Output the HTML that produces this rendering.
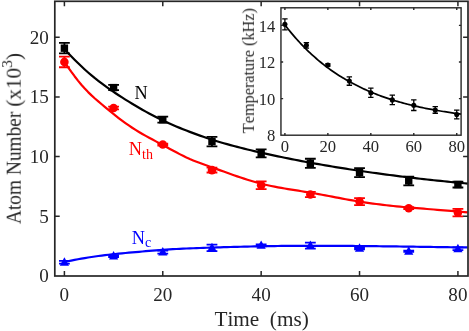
<!DOCTYPE html>
<html><head><meta charset="utf-8"><title>plot</title>
<style>html,body{margin:0;padding:0;background:#fff}body{width:469px;height:331px;overflow:hidden}svg{display:block}svg text{font-family:"Liberation Serif",serif;font-kerning:none;will-change:transform;white-space:pre}</style>
</head><body>
<svg width="469" height="331" viewBox="0 0 469 331">
<rect width="469" height="331" fill="#fff"/>
<g fill="none" stroke-width="2.20" stroke-linejoin="round">
<path stroke="#000" d="M64.40 49.14 L67.79 52.72 L71.18 56.23 L74.57 59.68 L77.96 63.04 L81.35 66.30 L84.74 69.46 L88.13 72.50 L91.52 75.41 L94.91 78.21 L98.30 80.88 L101.69 83.46 L105.07 85.95 L108.46 88.36 L111.85 90.71 L115.24 93.00 L118.63 95.24 L122.02 97.43 L125.41 99.58 L128.80 101.68 L132.19 103.74 L135.58 105.76 L138.97 107.74 L142.36 109.69 L145.75 111.59 L149.14 113.45 L152.53 115.26 L155.92 117.02 L159.31 118.73 L162.70 120.38 L166.09 121.98 L169.48 123.52 L172.87 125.01 L176.26 126.46 L179.65 127.86 L183.03 129.23 L186.42 130.56 L189.81 131.86 L193.20 133.14 L196.59 134.38 L199.98 135.60 L203.37 136.78 L206.76 137.94 L210.15 139.06 L213.54 140.14 L216.93 141.20 L220.32 142.22 L223.71 143.21 L227.10 144.18 L230.49 145.12 L233.88 146.03 L237.27 146.92 L240.66 147.79 L244.05 148.63 L247.44 149.46 L250.83 150.27 L254.22 151.07 L257.61 151.85 L260.99 152.62 L264.38 153.38 L267.77 154.13 L271.16 154.87 L274.55 155.60 L277.94 156.32 L281.33 157.02 L284.72 157.72 L288.11 158.41 L291.50 159.09 L294.89 159.76 L298.28 160.42 L301.67 161.07 L305.06 161.71 L308.45 162.34 L311.84 162.96 L315.23 163.57 L318.62 164.18 L322.01 164.77 L325.40 165.36 L328.79 165.94 L332.18 166.51 L335.57 167.07 L338.95 167.62 L342.34 168.16 L345.73 168.70 L349.12 169.23 L352.51 169.75 L355.90 170.27 L359.29 170.77 L362.68 171.27 L366.07 171.76 L369.46 172.25 L372.85 172.73 L376.24 173.20 L379.63 173.66 L383.02 174.12 L386.41 174.57 L389.80 175.01 L393.19 175.45 L396.58 175.88 L399.97 176.31 L403.36 176.72 L406.75 177.14 L410.14 177.54 L413.52 177.94 L416.91 178.34 L420.30 178.73 L423.69 179.11 L427.08 179.48 L430.47 179.86 L433.86 180.22 L437.25 180.58 L440.64 180.93 L444.03 181.28 L447.42 181.63 L450.81 181.97 L454.20 182.30 L457.59 182.63 L460.98 182.95 L464.37 183.27 L467.76 183.58"/>
<path stroke="#f00" d="M64.40 61.68 L67.79 66.77 L71.18 71.62 L74.57 76.22 L77.96 80.58 L81.35 84.68 L84.74 88.52 L88.13 92.09 L91.52 95.39 L94.91 98.48 L98.30 101.41 L101.69 104.27 L105.07 107.12 L108.46 109.93 L111.85 112.70 L115.24 115.40 L118.63 118.03 L122.02 120.58 L125.41 123.05 L128.80 125.43 L132.19 127.72 L135.58 129.91 L138.97 132.00 L142.36 134.00 L145.75 135.91 L149.14 137.77 L152.53 139.58 L155.92 141.38 L159.31 143.17 L162.70 144.97 L166.09 146.81 L169.48 148.67 L172.87 150.52 L176.26 152.34 L179.65 154.13 L183.03 155.84 L186.42 157.47 L189.81 159.00 L193.20 160.43 L196.59 161.78 L199.98 163.06 L203.37 164.30 L206.76 165.51 L210.15 166.70 L213.54 167.90 L216.93 169.12 L220.32 170.34 L223.71 171.57 L227.10 172.79 L230.49 174.00 L233.88 175.20 L237.27 176.38 L240.66 177.54 L244.05 178.66 L247.44 179.75 L250.83 180.81 L254.22 181.81 L257.61 182.76 L260.99 183.66 L264.38 184.50 L267.77 185.28 L271.16 186.01 L274.55 186.69 L277.94 187.34 L281.33 187.95 L284.72 188.54 L288.11 189.10 L291.50 189.65 L294.89 190.18 L298.28 190.71 L301.67 191.25 L305.06 191.79 L308.45 192.34 L311.84 192.91 L315.23 193.50 L318.62 194.11 L322.01 194.74 L325.40 195.37 L328.79 196.01 L332.18 196.65 L335.57 197.30 L338.95 197.94 L342.34 198.58 L345.73 199.21 L349.12 199.83 L352.51 200.43 L355.90 201.01 L359.29 201.57 L362.68 202.11 L366.07 202.62 L369.46 203.11 L372.85 203.58 L376.24 204.02 L379.63 204.45 L383.02 204.86 L386.41 205.25 L389.80 205.62 L393.19 205.98 L396.58 206.33 L399.97 206.66 L403.36 206.98 L406.75 207.29 L410.14 207.59 L413.52 207.88 L416.91 208.16 L420.30 208.44 L423.69 208.72 L427.08 208.99 L430.47 209.26 L433.86 209.52 L437.25 209.79 L440.64 210.05 L444.03 210.32 L447.42 210.60 L450.81 210.87 L454.20 211.15 L457.59 211.44 L460.98 211.74 L464.37 212.04 L467.76 212.36"/>
<path stroke="#00f" d="M64.40 262.03 L67.79 261.29 L71.18 260.59 L74.57 259.91 L77.96 259.27 L81.35 258.65 L84.74 258.07 L88.13 257.51 L91.52 256.98 L94.91 256.48 L98.30 256.00 L101.69 255.55 L105.07 255.12 L108.46 254.72 L111.85 254.34 L115.24 253.98 L118.63 253.64 L122.02 253.31 L125.41 253.00 L128.80 252.70 L132.19 252.40 L135.58 252.11 L138.97 251.81 L142.36 251.52 L145.75 251.22 L149.14 250.93 L152.53 250.65 L155.92 250.37 L159.31 250.11 L162.70 249.86 L166.09 249.62 L169.48 249.41 L172.87 249.20 L176.26 249.01 L179.65 248.84 L183.03 248.67 L186.42 248.52 L189.81 248.37 L193.20 248.24 L196.59 248.11 L199.98 247.98 L203.37 247.87 L206.76 247.75 L210.15 247.64 L213.54 247.53 L216.93 247.43 L220.32 247.32 L223.71 247.22 L227.10 247.12 L230.49 247.02 L233.88 246.92 L237.27 246.83 L240.66 246.74 L244.05 246.65 L247.44 246.57 L250.83 246.49 L254.22 246.41 L257.61 246.34 L260.99 246.27 L264.38 246.21 L267.77 246.15 L271.16 246.10 L274.55 246.05 L277.94 246.01 L281.33 245.97 L284.72 245.93 L288.11 245.90 L291.50 245.87 L294.89 245.85 L298.28 245.83 L301.67 245.81 L305.06 245.80 L308.45 245.79 L311.84 245.79 L315.23 245.79 L318.62 245.79 L322.01 245.80 L325.40 245.81 L328.79 245.82 L332.18 245.83 L335.57 245.85 L338.95 245.87 L342.34 245.89 L345.73 245.91 L349.12 245.94 L352.51 245.97 L355.90 246.00 L359.29 246.03 L362.68 246.06 L366.07 246.10 L369.46 246.13 L372.85 246.17 L376.24 246.21 L379.63 246.25 L383.02 246.29 L386.41 246.33 L389.80 246.37 L393.19 246.42 L396.58 246.46 L399.97 246.51 L403.36 246.55 L406.75 246.60 L410.14 246.65 L413.52 246.69 L416.91 246.74 L420.30 246.79 L423.69 246.84 L427.08 246.89 L430.47 246.94 L433.86 246.99 L437.25 247.04 L440.64 247.08 L444.03 247.13 L447.42 247.18 L450.81 247.23 L454.20 247.28 L457.59 247.33 L460.98 247.37 L464.37 247.42 L467.76 247.46"/>
</g>
<path stroke="#000" stroke-width="1.80" fill="none" d="M64.40 42.93 V53.44 M59.00 42.93 H69.80 M59.00 53.44 H69.80"/>
<rect x="60.70" y="44.48" width="7.40" height="7.40" fill="#000"/>
<path stroke="#000" stroke-width="1.80" fill="none" d="M113.59 84.96 V90.21 M108.19 84.96 H118.99 M108.19 90.21 H118.99"/>
<rect x="109.89" y="83.89" width="7.40" height="7.40" fill="#000"/>
<path stroke="#000" stroke-width="1.80" fill="none" d="M162.78 116.72 V122.69 M157.38 116.72 H168.18 M157.38 122.69 H168.18"/>
<rect x="159.08" y="116.01" width="7.40" height="7.40" fill="#000"/>
<path stroke="#000" stroke-width="1.80" fill="none" d="M211.97 136.78 V146.33 M206.57 136.78 H217.37 M206.57 146.33 H217.37"/>
<rect x="208.27" y="137.86" width="7.40" height="7.40" fill="#000"/>
<path stroke="#000" stroke-width="1.80" fill="none" d="M261.16 149.44 V157.32 M255.76 149.44 H266.56 M255.76 157.32 H266.56"/>
<rect x="257.46" y="149.68" width="7.40" height="7.40" fill="#000"/>
<path stroke="#000" stroke-width="1.80" fill="none" d="M310.35 158.75 V167.82 M304.95 158.75 H315.75 M304.95 167.82 H315.75"/>
<rect x="306.65" y="159.59" width="7.40" height="7.40" fill="#000"/>
<path stroke="#000" stroke-width="1.80" fill="none" d="M359.54 168.06 V177.14 M354.14 168.06 H364.94 M354.14 177.14 H364.94"/>
<rect x="355.84" y="168.90" width="7.40" height="7.40" fill="#000"/>
<path stroke="#000" stroke-width="1.80" fill="none" d="M408.73 176.54 V185.38 M403.33 176.54 H414.13 M403.33 185.38 H414.13"/>
<rect x="405.03" y="177.26" width="7.40" height="7.40" fill="#000"/>
<path stroke="#000" stroke-width="1.80" fill="none" d="M457.92 181.55 V187.52 M452.52 181.55 H463.32 M452.52 187.52 H463.32"/>
<rect x="454.22" y="180.84" width="7.40" height="7.40" fill="#000"/>
<path stroke="#f00" stroke-width="1.80" fill="none" d="M64.40 56.58 V67.25 M59.00 56.58 H69.80 M59.00 67.25 H69.80"/>
<circle cx="64.40" cy="61.92" r="4.3" fill="#f00"/>
<path stroke="#f00" stroke-width="1.80" fill="none" d="M113.59 106.57 V109.44 M108.19 106.57 H118.99 M108.19 109.44 H118.99"/>
<circle cx="113.59" cy="108.00" r="4.3" fill="#f00"/>
<path stroke="#f00" stroke-width="1.80" fill="none" d="M162.78 143.59 V145.50 M157.38 143.59 H168.18 M157.38 145.50 H168.18"/>
<circle cx="162.78" cy="144.54" r="4.3" fill="#f00"/>
<path stroke="#f00" stroke-width="1.80" fill="none" d="M211.97 167.70 V172.48 M206.57 167.70 H217.37 M206.57 172.48 H217.37"/>
<circle cx="211.97" cy="170.09" r="4.3" fill="#f00"/>
<path stroke="#f00" stroke-width="1.80" fill="none" d="M261.16 181.44 V189.08 M255.76 181.44 H266.56 M255.76 189.08 H266.56"/>
<circle cx="261.16" cy="185.26" r="4.3" fill="#f00"/>
<path stroke="#f00" stroke-width="1.80" fill="none" d="M310.35 191.82 V197.08 M304.95 191.82 H315.75 M304.95 197.08 H315.75"/>
<circle cx="310.35" cy="194.45" r="4.3" fill="#f00"/>
<path stroke="#f00" stroke-width="1.80" fill="none" d="M359.54 198.03 V205.20 M354.14 198.03 H364.94 M354.14 205.20 H364.94"/>
<circle cx="359.54" cy="201.61" r="4.3" fill="#f00"/>
<path stroke="#f00" stroke-width="1.80" fill="none" d="M408.73 207.23 V209.14 M403.33 207.23 H414.13 M403.33 209.14 H414.13"/>
<circle cx="408.73" cy="208.18" r="4.3" fill="#f00"/>
<path stroke="#f00" stroke-width="1.80" fill="none" d="M457.92 208.90 V216.30 M452.52 208.90 H463.32 M452.52 216.30 H463.32"/>
<circle cx="457.92" cy="212.60" r="4.3" fill="#f00"/>
<path stroke="#00f" stroke-width="1.80" fill="none" d="M64.40 260.96 V263.58 M59.00 260.96 H69.80 M59.00 263.58 H69.80"/>
<path fill="#00f" d="M64.40 257.23 L69.00 265.63 L59.80 265.63 Z"/>
<path stroke="#00f" stroke-width="1.80" fill="none" d="M113.59 255.10 V257.02 M108.19 255.10 H118.99 M108.19 257.02 H118.99"/>
<path fill="#00f" d="M113.59 251.02 L118.19 259.42 L108.99 259.42 Z"/>
<path stroke="#00f" stroke-width="1.80" fill="none" d="M162.78 250.69 V253.55 M157.38 250.69 H168.18 M157.38 253.55 H168.18"/>
<path fill="#00f" d="M162.78 247.08 L167.38 255.48 L158.18 255.48 Z"/>
<path stroke="#00f" stroke-width="1.80" fill="none" d="M211.97 244.60 V251.05 M206.57 244.60 H217.37 M206.57 251.05 H217.37"/>
<path fill="#00f" d="M211.97 242.78 L216.57 251.18 L207.37 251.18 Z"/>
<path stroke="#00f" stroke-width="1.80" fill="none" d="M261.16 244.48 V246.39 M255.76 244.48 H266.56 M255.76 246.39 H266.56"/>
<path fill="#00f" d="M261.16 240.39 L265.76 248.79 L256.56 248.79 Z"/>
<path stroke="#00f" stroke-width="1.80" fill="none" d="M310.35 242.57 V248.54 M304.95 242.57 H315.75 M304.95 248.54 H315.75"/>
<path fill="#00f" d="M310.35 240.51 L314.95 248.91 L305.75 248.91 Z"/>
<path stroke="#00f" stroke-width="1.80" fill="none" d="M359.54 247.34 V249.25 M354.14 247.34 H364.94 M354.14 249.25 H364.94"/>
<path fill="#00f" d="M359.54 243.26 L364.14 251.66 L354.94 251.66 Z"/>
<path stroke="#00f" stroke-width="1.80" fill="none" d="M408.73 250.69 V251.88 M403.33 250.69 H414.13 M403.33 251.88 H414.13"/>
<path fill="#00f" d="M408.73 246.24 L413.33 254.64 L404.13 254.64 Z"/>
<path stroke="#00f" stroke-width="1.80" fill="none" d="M457.92 247.34 V250.21 M452.52 247.34 H463.32 M452.52 250.21 H463.32"/>
<path fill="#00f" d="M457.92 243.74 L462.52 252.14 L453.32 252.14 Z"/>
<g stroke="#262626" stroke-width="1.7" fill="none">
<rect x="54.80" y="1.30" width="413.20" height="274.70"/>
<path stroke-width="1.5" d="M64.40 276.00 v-4.90 M64.40 1.30 v4.90 M162.78 276.00 v-4.90 M162.78 1.30 v4.90 M261.16 276.00 v-4.90 M261.16 1.30 v4.90 M359.54 276.00 v-4.90 M359.54 1.30 v4.90 M457.92 276.00 v-4.90 M457.92 1.30 v4.90 M54.80 216.30 h4.90 M468.00 216.30 h-4.90 M54.80 156.60 h4.90 M468.00 156.60 h-4.90 M54.80 96.90 h4.90 M468.00 96.90 h-4.90 M54.80 37.20 h4.90 M468.00 37.20 h-4.90 "/>
</g>
<g fill="#262626">
<text transform="translate(64.40 300.90) translate(-4.78 0.00)" font-size="19.10px" xml:space="preserve">0</text>
<text transform="translate(162.78 300.90) translate(-9.55 0.00)" font-size="19.10px" xml:space="preserve">20</text>
<text transform="translate(261.16 300.90) translate(-9.55 0.00)" font-size="19.10px" xml:space="preserve">40</text>
<text transform="translate(359.54 300.90) translate(-9.55 0.00)" font-size="19.10px" xml:space="preserve">60</text>
<text transform="translate(457.92 300.90) translate(-9.55 0.00)" font-size="19.10px" xml:space="preserve">80</text>
<text transform="translate(48.80 282.40) translate(-9.55 0.00)" font-size="19.10px" xml:space="preserve">0</text>
<text transform="translate(48.80 222.70) translate(-9.55 0.00)" font-size="19.10px" xml:space="preserve">5</text>
<text transform="translate(48.80 163.00) translate(-19.10 0.00)" font-size="19.10px" xml:space="preserve">10</text>
<text transform="translate(48.80 103.30) translate(-19.10 0.00)" font-size="19.10px" xml:space="preserve">15</text>
<text transform="translate(48.80 43.60) translate(-19.10 0.00)" font-size="19.10px" xml:space="preserve">20</text>
<text transform="translate(261.60 326.00) translate(-47.14 0.00) scale(1.025 1)" font-size="20.70px" xml:space="preserve">Time  (ms)</text>
<text transform="translate(20.70 224.10) rotate(-90) translate(0.00 0.00) scale(0.955 1)" font-size="20.30px" xml:space="preserve">Atom Number </text><text transform="translate(20.70 224.10) rotate(-90) translate(117.38 0.00) scale(1.02 1)" font-size="20.80px" xml:space="preserve">(x10</text><text transform="translate(20.70 224.10) rotate(-90) translate(156.27 -8.60)" font-size="15.60px" xml:space="preserve">3</text><text transform="translate(20.70 224.10) rotate(-90) translate(164.07 0.00) scale(1.02 1)" font-size="20.80px" xml:space="preserve">)</text>
</g>
<text transform="translate(134.60 98.90) translate(0.00 0.00)" font-size="18.30px" fill="#000" xml:space="preserve">N</text>
<text transform="translate(128.80 155.30) translate(0.00 0.00)" font-size="18.30px" fill="#f00" xml:space="preserve">N</text><text transform="translate(128.80 155.30) translate(13.22 3.40)" font-size="14.00px" fill="#f00" xml:space="preserve">th</text>
<text transform="translate(131.80 243.70) translate(0.00 0.00)" font-size="18.30px" fill="#00f" xml:space="preserve">N</text><text transform="translate(131.80 243.70) translate(13.22 3.40)" font-size="14.00px" fill="#00f" xml:space="preserve">c</text>
<rect x="280.95" y="7.80" width="180.15" height="127.40" fill="#fff"/>
<path fill="none" stroke="#000" stroke-width="1.75" d="M284.90 24.85 L286.38 26.79 L287.86 28.69 L289.34 30.55 L290.82 32.36 L292.30 34.15 L293.78 35.89 L295.26 37.60 L296.74 39.27 L298.22 40.91 L299.70 42.51 L301.18 44.08 L302.66 45.63 L304.14 47.14 L305.62 48.62 L307.10 50.08 L308.58 51.51 L310.06 52.91 L311.54 54.29 L313.02 55.64 L314.50 56.97 L315.98 58.27 L317.46 59.55 L318.94 60.80 L320.42 62.03 L321.90 63.24 L323.38 64.42 L324.86 65.58 L326.34 66.72 L327.82 67.83 L329.30 68.92 L330.78 69.98 L332.26 71.02 L333.74 72.04 L335.22 73.03 L336.70 74.01 L338.18 74.96 L339.66 75.90 L341.15 76.81 L342.63 77.71 L344.11 78.59 L345.59 79.46 L347.07 80.31 L348.55 81.14 L350.03 81.96 L351.51 82.76 L352.99 83.55 L354.47 84.33 L355.95 85.09 L357.43 85.84 L358.91 86.57 L360.39 87.30 L361.87 88.00 L363.35 88.70 L364.83 89.38 L366.31 90.05 L367.79 90.71 L369.27 91.35 L370.75 91.98 L372.23 92.60 L373.71 93.21 L375.19 93.80 L376.67 94.39 L378.15 94.96 L379.63 95.52 L381.11 96.07 L382.59 96.61 L384.07 97.13 L385.55 97.65 L387.03 98.16 L388.51 98.65 L389.99 99.14 L391.47 99.62 L392.95 100.08 L394.43 100.54 L395.91 100.99 L397.39 101.43 L398.87 101.86 L400.35 102.28 L401.83 102.69 L403.31 103.10 L404.79 103.49 L406.27 103.88 L407.75 104.26 L409.23 104.64 L410.71 105.00 L412.19 105.36 L413.67 105.71 L415.15 106.06 L416.63 106.39 L418.11 106.72 L419.59 107.05 L421.07 107.37 L422.55 107.68 L424.03 107.99 L425.51 108.29 L426.99 108.58 L428.47 108.87 L429.95 109.15 L431.43 109.43 L432.91 109.71 L434.39 109.97 L435.87 110.24 L437.35 110.50 L438.83 110.75 L440.31 111.00 L441.79 111.25 L443.27 111.49 L444.75 111.73 L446.23 111.97 L447.71 112.20 L449.19 112.43 L450.68 112.65 L452.16 112.88 L453.64 113.09 L455.12 113.31 L456.60 113.53 L458.08 113.74 L459.56 113.95 L461.04 114.15"/>
<path stroke="#000" stroke-width="1.30" fill="none" d="M284.90 18.81 V29.79 M282.20 18.81 H287.60 M282.20 29.79 H287.60"/>
<circle cx="284.90" cy="24.30" r="2.55" fill="#000"/>
<path stroke="#000" stroke-width="1.30" fill="none" d="M306.38 42.60 V48.09 M303.68 42.60 H309.08 M303.68 48.09 H309.08"/>
<circle cx="306.38" cy="45.35" r="2.55" fill="#000"/>
<path stroke="#000" stroke-width="1.30" fill="none" d="M327.86 63.83 V66.03 M325.16 63.83 H330.56 M325.16 66.03 H330.56"/>
<circle cx="327.86" cy="64.93" r="2.55" fill="#000"/>
<path stroke="#000" stroke-width="1.30" fill="none" d="M349.34 76.82 V85.24 M346.64 76.82 H352.04 M346.64 85.24 H352.04"/>
<circle cx="349.34" cy="81.03" r="2.55" fill="#000"/>
<path stroke="#000" stroke-width="1.30" fill="none" d="M370.82 88.17 V97.32 M368.12 88.17 H373.52 M368.12 97.32 H373.52"/>
<circle cx="370.82" cy="92.74" r="2.55" fill="#000"/>
<path stroke="#000" stroke-width="1.30" fill="none" d="M392.30 95.12 V104.64 M389.60 95.12 H395.00 M389.60 104.64 H395.00"/>
<circle cx="392.30" cy="99.88" r="2.55" fill="#000"/>
<path stroke="#000" stroke-width="1.30" fill="none" d="M413.78 99.88 V110.49 M411.08 99.88 H416.48 M411.08 110.49 H416.48"/>
<circle cx="413.78" cy="105.19" r="2.55" fill="#000"/>
<path stroke="#000" stroke-width="1.30" fill="none" d="M435.26 106.65 V113.24 M432.56 106.65 H437.96 M432.56 113.24 H437.96"/>
<circle cx="435.26" cy="109.95" r="2.55" fill="#000"/>
<path stroke="#000" stroke-width="1.30" fill="none" d="M456.74 110.13 V118.91 M454.04 110.13 H459.44 M454.04 118.91 H459.44"/>
<circle cx="456.74" cy="114.52" r="2.55" fill="#000"/>
<g stroke="#262626" stroke-width="1.4" fill="none">
<rect x="280.95" y="7.80" width="180.15" height="127.40"/>
<path d="M284.90 135.20 v-2.20 M284.90 7.80 v2.20 M327.86 135.20 v-2.20 M327.86 7.80 v2.20 M370.82 135.20 v-2.20 M370.82 7.80 v2.20 M413.78 135.20 v-2.20 M413.78 7.80 v2.20 M456.74 135.20 v-2.20 M456.74 7.80 v2.20 M280.95 98.60 h2.20 M461.10 98.60 h-2.20 M280.95 62.00 h2.20 M461.10 62.00 h-2.20 M280.95 25.40 h2.20 M461.10 25.40 h-2.20 "/>
</g>
<g fill="#262626">
<text transform="translate(284.90 151.80) translate(-4.15 0.00)" font-size="16.60px" xml:space="preserve">0</text>
<text transform="translate(327.86 151.80) translate(-8.30 0.00)" font-size="16.60px" xml:space="preserve">20</text>
<text transform="translate(370.82 151.80) translate(-8.30 0.00)" font-size="16.60px" xml:space="preserve">40</text>
<text transform="translate(413.78 151.80) translate(-8.30 0.00)" font-size="16.60px" xml:space="preserve">60</text>
<text transform="translate(456.74 151.80) translate(-8.30 0.00)" font-size="16.60px" xml:space="preserve">80</text>
<text transform="translate(275.40 141.40) translate(-8.30 0.00)" font-size="16.60px" xml:space="preserve">8</text>
<text transform="translate(275.40 104.80) translate(-16.60 0.00)" font-size="16.60px" xml:space="preserve">10</text>
<text transform="translate(275.40 68.20) translate(-16.60 0.00)" font-size="16.60px" xml:space="preserve">12</text>
<text transform="translate(275.40 31.60) translate(-16.60 0.00)" font-size="16.60px" xml:space="preserve">14</text>
<text transform="translate(253.90 70.60) rotate(-90) translate(-62.67 0.00)" font-size="16.30px" xml:space="preserve">Temperature (kHz)</text>
</g>
</svg>
</body></html>
